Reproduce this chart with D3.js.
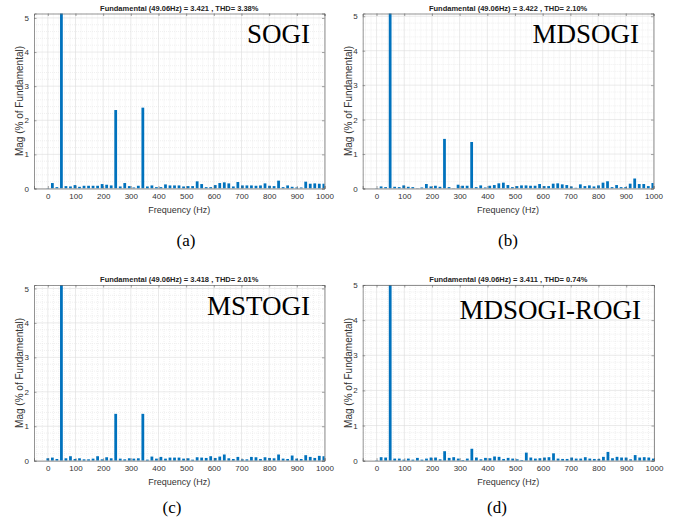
<!DOCTYPE html>
<html>
<head>
<meta charset="utf-8">
<script src="https://cdn.jsdelivr.net/npm/d3@7"></script>
<style>
  body { margin: 0; background: #fff; }
  .sans { font-family: "Liberation Sans", Arial, sans-serif; }
  .serif { font-family: "Liberation Serif", "Times New Roman", serif; }
</style>
</head>
<body>
<svg id="fig" width="682" height="523"></svg>
<script>
// Harmonic spectrum bins (Hz), spacing = fundamental / 3
const freqs = [0, 16.4, 32.7, 49.1, 65.4, 81.8, 98.1, 114.5, 130.8, 147.2, 163.5, 179.9,
  196.2, 212.6, 229.0, 245.3, 261.7, 278.0, 294.4, 310.7, 327.1, 343.4, 359.8, 376.1,
  392.5, 408.8, 425.2, 441.5, 457.9, 474.2, 490.6, 507.0, 523.3, 539.7, 556.0, 572.4,
  588.7, 605.1, 621.4, 637.8, 654.1, 670.5, 686.8, 703.2, 719.5, 735.9, 752.3, 768.6,
  785.0, 801.3, 817.7, 834.0, 850.4, 866.7, 883.1, 899.4, 915.8, 932.1, 948.5, 964.8,
  981.2, 997.6];

// Magnitudes, % of fundamental
const sogiMag = [0.01, 0.16, 0.04, 100, 0.07, 0.06, 0.10, 0.05, 0.08, 0.08, 0.08, 0.08,
  0.13, 0.11, 0.09, 2.30, 0.06, 0.16, 0.07, 0.03, 0.08, 2.37, 0.06, 0.09,
  0.04, 0.04, 0.12, 0.09, 0.09, 0.09, 0.06, 0.07, 0.07, 0.21, 0.13, 0.04,
  0.04, 0.10, 0.16, 0.18, 0.15, 0.06, 0.19, 0.09, 0.09, 0.09, 0.08, 0.09,
  0.15, 0.08, 0.07, 0.23, 0.04, 0.09, 0.05, 0.03, 0.03, 0.20, 0.14, 0.15,
  0.14, 0.14];

const mdsogiMag = [0.01, 0.06, 0.04, 100, 0.05, 0.04, 0.09, 0.05, 0.04, 0.01, 0.03, 0.13,
  0.06, 0.08, 0.05, 1.44, 0.04, 0.01, 0.11, 0.08, 0.08, 1.35, 0.04, 0.09,
  0.03, 0.08, 0.10, 0.15, 0.17, 0.10, 0.04, 0.07, 0.09, 0.09, 0.08, 0.08,
  0.13, 0.07, 0.07, 0.14, 0.15, 0.12, 0.10, 0.06, 0.02, 0.12, 0.07, 0.09,
  0.06, 0.09, 0.17, 0.21, 0.04, 0.10, 0.04, 0.04, 0.14, 0.29, 0.13, 0.13,
  0.07, 0.16];

const mstogiMag = [0.07, 0.09, 0.05, 100, 0.07, 0.13, 0.05, 0.07, 0.04, 0.04, 0.06, 0.13,
  0.04, 0.10, 0.07, 1.36, 0.06, 0.04, 0.07, 0.06, 0.07, 1.36, 0.03, 0.12,
  0.06, 0.11, 0.06, 0.09, 0.09, 0.09, 0.06, 0.07, 0.03, 0.10, 0.09, 0.08,
  0.13, 0.08, 0.12, 0.18, 0.07, 0.05, 0.11, 0.04, 0.04, 0.11, 0.10, 0.05,
  0.10, 0.08, 0.07, 0.18, 0.06, 0.05, 0.15, 0.06, 0.05, 0.16, 0.11, 0.08,
  0.14, 0.13];

const rogiMag = [0.01, 0.10, 0.09, 100, 0.06, 0.06, 0.03, 0.06, 0.03, 0.08, 0.03, 0.06,
  0.09, 0.09, 0.04, 0.27, 0.08, 0.10, 0.06, 0.02, 0.06, 0.34, 0.09, 0.04,
  0.08, 0.07, 0.12, 0.11, 0.05, 0.08, 0.06, 0.04, 0.02, 0.23, 0.09, 0.06,
  0.07, 0.09, 0.10, 0.21, 0.06, 0.05, 0.05, 0.09, 0.06, 0.06, 0.10, 0.06,
  0.05, 0.05, 0.11, 0.25, 0.07, 0.11, 0.09, 0.09, 0.04, 0.16, 0.09, 0.10,
  0.09, 0.06];

const methodNames = ["SOGI", "MDSOGI", "MSTOGI", "MDSOGI-ROGI"];
const captions = ["(a)", "(b)", "(c)", "(d)"];
const fundamentals = ["3.421", "3.422", "3.418", "3.411"];
const thdValues = ["3.38%", "2.10%", "2.01%", "0.74%"];
const yMaxes = [5.13, 5.08, 5.1, 5.0];
const xTicks = [0, 100, 200, 300, 400, 500, 600, 700, 800, 900, 1000];
const yTicks = [0, 1, 2, 3, 4, 5];
const series = [sogiMag, mdsogiMag, mstogiMag, rogiMag];

// Panel frames (plot-area boxes) and label anchors
const frames = [
  { l: 34, r: 324.5, t: 13.5, b: 188.5, nameX: 310, nameY: 43, capX: 186, capY: 246 },
  { l: 362.7, r: 653.5, t: 13.5, b: 188.5, nameX: 639, nameY: 43, capX: 508, capY: 246 },
  { l: 34, r: 324.5, t: 285, b: 460.7, nameX: 310, nameY: 315, capX: 172, capY: 513 },
  { l: 362.7, r: 654, t: 285, b: 460.7, nameX: 641, nameY: 319, capX: 497, capY: 513 }
];

const svg = d3.select("#fig");
const barColor = "#0072BD";
const axisColor = "#666";

frames.forEach((f, i) => {
  const x = d3.scaleLinear().domain([-50, 1000]).range([f.l, f.r]);
  const y = d3.scaleLinear().domain([0, yMaxes[i]]).range([f.b, f.t]);
  const g = svg.append("g").attr("class", "sans");

  const clipId = "clip" + i;
  svg.append("clipPath").attr("id", clipId)
    .append("rect").attr("x", f.l).attr("y", f.t)
    .attr("width", f.r - f.l).attr("height", f.b - f.t);

  // minor grid
  const xMinor = d3.range(-40, 1001, 20).filter(v => v % 100 !== 0);
  const yMinor = d3.range(0, yMaxes[i], 0.2).filter(v => Math.abs(v - Math.round(v)) > 1e-6);
  g.append("g").selectAll("line").data(xMinor).join("line")
    .attr("x1", d => x(d)).attr("x2", d => x(d)).attr("y1", f.t).attr("y2", f.b)
    .attr("stroke", "#e6e6e6").attr("stroke-width", 0.6).attr("stroke-dasharray", "1,1");
  g.append("g").selectAll("line").data(yMinor).join("line")
    .attr("x1", f.l).attr("x2", f.r).attr("y1", d => y(d)).attr("y2", d => y(d))
    .attr("stroke", "#e6e6e6").attr("stroke-width", 0.6).attr("stroke-dasharray", "1,1");

  // major grid
  g.append("g").selectAll("line").data(xTicks).join("line")
    .attr("x1", d => x(d)).attr("x2", d => x(d)).attr("y1", f.t).attr("y2", f.b)
    .attr("stroke", "#dcdcdc").attr("stroke-width", 0.6);
  g.append("g").selectAll("line").data(yTicks).join("line")
    .attr("x1", f.l).attr("x2", f.r).attr("y1", d => y(d)).attr("y2", d => y(d))
    .attr("stroke", "#dcdcdc").attr("stroke-width", 0.6);

  // bars
  const bw = x(10) - x(0);
  g.append("g").attr("clip-path", `url(#${clipId})`)
    .selectAll("rect").data(series[i].map((v, k) => ({ f: freqs[k], v }))).join("rect")
    .attr("x", d => x(d.f) - bw / 2)
    .attr("width", bw)
    .attr("y", d => y(d.v))
    .attr("height", d => y(0) - y(d.v))
    .attr("fill", barColor);

  // axes with inward ticks
  const axB = d3.axisBottom(x).tickValues(xTicks).tickSize(-2.5).tickPadding(5).tickFormat(d3.format("d"));
  const axL = d3.axisLeft(y).tickValues(yTicks).tickSize(-2.5).tickPadding(5).tickFormat(d3.format("d"));
  const axT = d3.axisTop(x).tickValues(xTicks).tickSize(-2.5).tickFormat("");
  const axR = d3.axisRight(y).tickValues(yTicks).tickSize(-2.5).tickFormat("");

  const styleAxis = sel => {
    sel.attr("font-family", null).attr("font-size", null);
    sel.select(".domain").attr("stroke", axisColor).attr("stroke-width", 0.7);
    sel.selectAll(".tick line").attr("stroke", axisColor).attr("stroke-width", 0.6);
    sel.selectAll(".tick text").attr("fill", "#333").style("font-size", "8px");
  };
  g.append("g").attr("transform", `translate(0,${f.b})`).call(axB).call(styleAxis);
  g.append("g").attr("transform", `translate(${f.l},0)`).call(axL).call(styleAxis);
  g.append("g").attr("transform", `translate(0,${f.t})`).call(axT).call(styleAxis);
  g.append("g").attr("transform", `translate(${f.r},0)`).call(axR).call(styleAxis);

  // title
  g.append("text")
    .attr("x", (f.l + f.r) / 2).attr("y", f.t - 3)
    .attr("text-anchor", "middle").style("font-size", "7.5px").style("font-weight", "bold")
    .attr("fill", "#222")
    .text(`Fundamental (49.06Hz) = ${fundamentals[i]} , THD= ${thdValues[i]}`);

  // axis labels
  g.append("text")
    .attr("x", (f.l + f.r) / 2).attr("y", f.b + 24)
    .attr("text-anchor", "middle").style("font-size", "9px").attr("fill", "#333")
    .text("Frequency (Hz)");
  g.append("text")
    .attr("transform", `translate(${f.l - 11},${(f.t + f.b) / 2}) rotate(-90)`)
    .attr("text-anchor", "middle").style("font-size", "10px").attr("fill", "#333")
    .text("Mag (% of Fundamental)");

  // method name
  g.append("text").attr("class", "serif")
    .attr("x", f.nameX).attr("y", f.nameY)
    .attr("text-anchor", "end").style("font-size", "27px")
    .attr("fill", "#000")
    .text(methodNames[i]);

  // caption
  g.append("text").attr("class", "serif")
    .attr("x", f.capX).attr("y", f.capY)
    .attr("text-anchor", "middle").style("font-size", "17px")
    .attr("fill", "#000")
    .text(captions[i]);
});
</script>
</body>
</html>
